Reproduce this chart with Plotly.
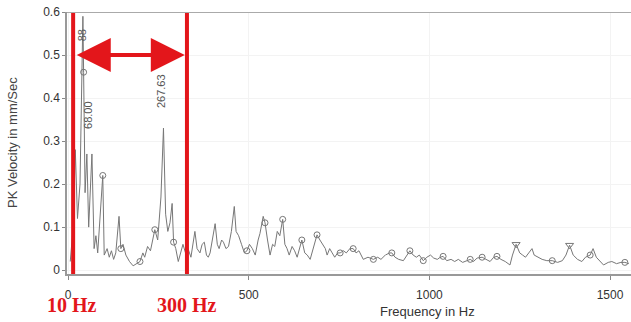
import plotly.graph_objects as go

# spectrum turning points (Hz, mm/Sec)
freq = [6, 14, 20, 26, 33, 39, 41, 43, 47, 52, 57, 66, 72, 77, 82, 96, 100, 108, 114, 120,
        126, 132, 141, 146, 152, 160, 170, 180, 190, 199, 207, 212, 220, 228, 240, 248, 257, 264, 270, 276,
        282, 288, 292, 298, 305, 312, 318, 325, 332, 340, 346, 351, 357, 365, 371, 377, 383, 388, 393, 400,
        407, 413, 418, 425, 430, 437, 444, 452, 460, 465, 472, 480, 488, 495, 502, 510, 518, 526, 531, 540,
        545, 552, 559, 566, 572, 579, 586, 594, 600, 606, 612, 620, 627, 634, 640, 647, 655, 662, 670, 678,
        689, 697, 704, 712, 717, 724, 731, 738, 746, 753, 762, 770, 780, 789, 797, 805, 817, 830, 845, 857,
        866, 878, 890, 896, 905, 915, 928, 938, 946, 955, 964, 972, 983, 993, 1003, 1012, 1022, 1030, 1038, 1048,
        1060, 1070, 1080, 1092, 1102, 1113, 1122, 1132, 1146, 1158, 1168, 1178, 1187, 1198, 1210, 1223, 1230, 1240, 1250, 1258,
        1266, 1275, 1284, 1290, 1300, 1312, 1325, 1340, 1355, 1368, 1378, 1388, 1398, 1410, 1422, 1432, 1445, 1453, 1462, 1472,
        1482, 1495, 1505, 1518, 1530, 1541, 1552]
vel = [0.02, 0.10, 0.28, 0.12, 0.20, 0.46, 0.59, 0.46, 0.18, 0.27, 0.10, 0.27, 0.05, 0.08, 0.04, 0.22, 0.035, 0.05, 0.03, 0.045,
       0.025, 0.04, 0.125, 0.05, 0.06, 0.035, 0.02, 0.01, 0.015, 0.02, 0.04, 0.03, 0.055, 0.045, 0.094, 0.07, 0.17, 0.33, 0.13, 0.09,
       0.11, 0.155, 0.065, 0.05, 0.02, 0.04, 0.06, 0.04, 0.05, 0.03, 0.07, 0.09, 0.05, 0.04, 0.06, 0.065, 0.035, 0.03, 0.04, 0.07,
       0.108, 0.06, 0.05, 0.07, 0.065, 0.05, 0.055, 0.09, 0.148, 0.09, 0.08, 0.06, 0.04, 0.045, 0.06, 0.05, 0.035, 0.07, 0.085, 0.125,
       0.11, 0.07, 0.035, 0.06, 0.055, 0.09, 0.08, 0.118, 0.06, 0.05, 0.035, 0.055, 0.045, 0.03, 0.05, 0.07, 0.04, 0.035, 0.025, 0.05,
       0.082, 0.07, 0.06, 0.05, 0.035, 0.05, 0.04, 0.03, 0.04, 0.04, 0.045, 0.04, 0.05, 0.05, 0.04, 0.045, 0.025, 0.03, 0.025, 0.03,
       0.025, 0.035, 0.04, 0.04, 0.03, 0.025, 0.022, 0.035, 0.045, 0.035, 0.03, 0.035, 0.022, 0.03, 0.035, 0.028, 0.025, 0.03, 0.032, 0.022,
       0.025, 0.02, 0.025, 0.018, 0.022, 0.025, 0.02, 0.028, 0.03, 0.025, 0.02, 0.03, 0.032, 0.025, 0.02, 0.012, 0.035, 0.06, 0.04, 0.035,
       0.03, 0.04, 0.05, 0.035, 0.03, 0.025, 0.022, 0.022, 0.018, 0.022, 0.035, 0.058, 0.035, 0.025, 0.02, 0.03, 0.035, 0.05, 0.03, 0.02,
       0.012, 0.018, 0.02, 0.015, 0.018, 0.018, 0.015]

# marked peaks (open circles / triangles)
circ_f = [43, 96, 146, 199, 240, 292, 495, 545, 594, 647, 689, 753, 789, 845, 896, 946, 983, 1038, 1113, 1146, 1187, 1340, 1445, 1541]
circ_v = [0.46, 0.22, 0.05, 0.02, 0.094, 0.065, 0.045, 0.11, 0.118, 0.07, 0.082, 0.04, 0.05, 0.025, 0.04, 0.045, 0.022, 0.032, 0.025, 0.03, 0.032, 0.022, 0.035, 0.018]
tri_f = [1240, 1388]
tri_v = [0.06, 0.058]

peak_labels = ["88", "68.00", "267.63"]
peak_label_f = [37, 57, 257]
peak_label_v = [0.547, 0.36, 0.416]

band_lo, band_hi = 14, 329   # where the red band lines are drawn
band_names = ["10 Hz", "300 Hz"]
band_name_x = [0.009, 0.213]  # paper x of the red captions

grey = "#555555"
red = "#e3161b"

fig = go.Figure()
fig.add_trace(go.Scatter(x=freq, y=vel, mode="lines", line=dict(color="#777777", width=1), hoverinfo="skip"))
fig.add_trace(go.Scatter(x=circ_f, y=circ_v, mode="markers",
                         marker=dict(symbol="circle-open", size=6, color="#777777", line=dict(width=1))))
fig.add_trace(go.Scatter(x=tri_f, y=tri_v, mode="markers",
                         marker=dict(symbol="triangle-down-open", size=7, color="#777777", line=dict(width=1))))

# peak labels, rotated
for t, f, v in zip(peak_labels, peak_label_f, peak_label_v):
    fig.add_annotation(x=f, y=v, text=t, textangle=-90, showarrow=False,
                       font=dict(family="Liberation Sans", size=11, color=grey))

# red band lines
for f in [band_lo, band_hi]:
    fig.add_shape(type="line", x0=f, x1=f, y0=-0.012, y1=0.6, xref="x", yref="y",
                  line=dict(color=red, width=4))

# double arrow between the lines: shaft + two heads
fig.add_shape(type="line", x0=band_lo + 40, x1=band_hi - 40, y0=0.5, y1=0.5, xref="x", yref="y",
              line=dict(color=red, width=4))
for end, back in [(band_lo + 10, band_lo + 60), (band_hi - 6, band_hi - 56)]:
    fig.add_annotation(x=end, y=0.5, ax=back, ay=0.5, axref="x", ayref="y", xref="x", yref="y",
                       text="", showarrow=True, arrowhead=2, arrowsize=1.7, arrowwidth=4, arrowcolor=red)

# red band names under the axis
for t, px in zip(band_names, band_name_x):
    fig.add_annotation(x=px, y=-0.118, xref="paper", yref="paper", xanchor="center", yanchor="middle",
                       text="<b>" + t + "</b>", showarrow=False,
                       font=dict(family="Liberation Serif", size=20, color=red))

# axis titles placed like the original
fig.add_annotation(x=0.64, y=-0.145, xref="paper", yref="paper", xanchor="center", yanchor="middle",
                   text="Frequency in Hz", showarrow=False, font=dict(size=13, color="#333333"))
fig.add_annotation(x=-0.0975, y=0.5, xref="paper", yref="paper", xanchor="center", yanchor="middle",
                   text="PK Velocity in mm/Sec", textangle=-90, showarrow=False,
                   font=dict(size=13, color="#444444"))

# top border
fig.add_shape(type="line", x0=0, x1=1, y0=0.6, y1=0.6, xref="paper", yref="y",
              line=dict(color="#aaaaaa", width=2))

fig.update_layout(
    width=631, height=322,
    margin=dict(l=67, r=0, t=12, b=48),
    paper_bgcolor="white", plot_bgcolor="white",
    showlegend=False,
    font=dict(family="Liberation Sans", size=12, color="#333333"),
)
fig.update_xaxes(range=[-3, 1558], tickvals=[0, 500, 1000, 1500], ticks="outside", ticklen=4,
                 ticklabelstandoff=5,
                 tickcolor="#888888", showline=True, linecolor="#999999", linewidth=1.5,
                 showgrid=True, gridcolor="#f3f3f3", zeroline=False, automargin=False)
fig.update_yaxes(range=[-0.009, 0.6], tickvals=[0, 0.1, 0.2, 0.3, 0.4, 0.5, 0.6],
                 ticktext=["0", "0.1", "0.2", "0.3", "0.4", "0.5", "0.6"],
                 ticks="outside", ticklen=3, tickcolor="#888888",
                 showline=True, linecolor="#999999", linewidth=1.5,
                 showgrid=True, gridcolor="#f3f3f3", zeroline=False, automargin=False)

# drop the page's default body margin so the figure sits at the window corner
fig.write_html("out.html", config={"displayModeBar": False},
               post_script="document.body.style.margin='0px';")
